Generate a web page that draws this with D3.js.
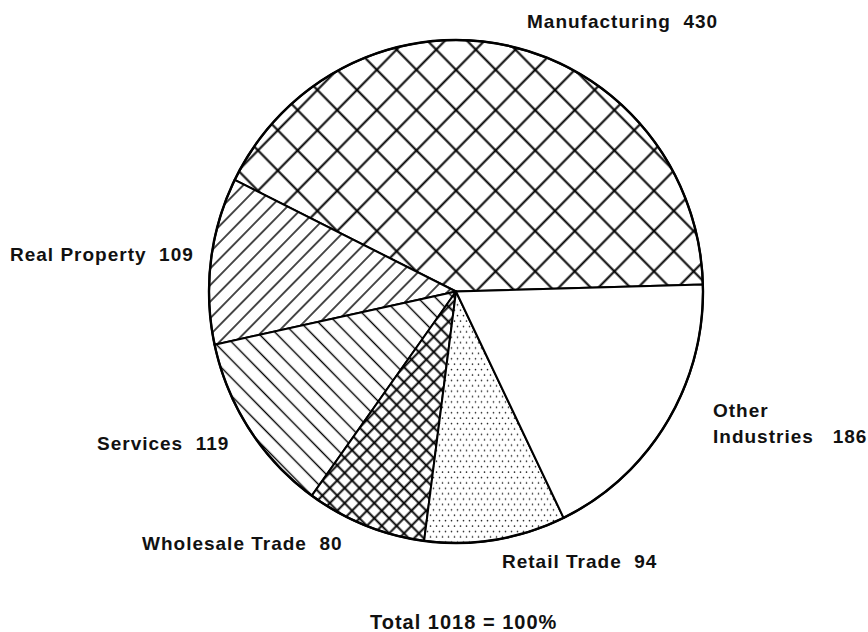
<!DOCTYPE html>
<html>
<head>
<meta charset="utf-8">
<script src="https://cdn.jsdelivr.net/npm/d3@7"></script>
<style>
  body { margin: 0; background: #fff; }
  text { font-family: "Liberation Sans", Arial, sans-serif; font-weight: bold; fill: #111; white-space: pre; }
</style>
</head>
<body>
<script>
// data

const categories = ["Manufacturing", "Real Property", "Services", "Wholesale Trade", "Retail Trade", "Other Industries"];
const values = [430, 109, 119, 80, 94, 186];
const total = 1018;
const fills = ["crossLarge", "hatchUp", "hatchDown", "crossSmall", "dots", "none"];

// layout

const width = 868;
const height = 632;
const cx = 456, cy = 291.5, radius = 247, squash = 1.018;
const startOffset = 1.6 * Math.PI / 180;

// label anchors (x start, baseline)
const labelPos = {
    "Manufacturing": [[527, 28]],
    "Real Property": [[10, 261]],
    "Services": [[97, 450]],
    "Wholesale Trade": [[142, 550]],
    "Retail Trade": [[502, 568]],
    "Other Industries": [[713, 417], [713, 443]]
};

const svg = d3.select("body")
    .append("svg")
    .attr("width", width)
    .attr("height", height);

// patterns

const defs = svg.append("defs");

function linePattern(id, s, sw, kind) {
    const p = defs.append("pattern")
        .attr("id", id)
        .attr("patternUnits", "userSpaceOnUse")
        .attr("width", s)
        .attr("height", s)
        .attr("patternTransform", `rotate(${kind === "up" ? -45 : 45})`);
    p.append("rect").attr("width", s).attr("height", s).attr("fill", "#fff");
    p.append("line")
        .attr("x1", 0).attr("x2", s)
        .attr("y1", s / 2).attr("y2", s / 2)
        .attr("stroke", "#000").attr("stroke-width", sw);
    if (kind === "cross") {
        p.append("line")
            .attr("y1", 0).attr("y2", s)
            .attr("x1", s / 2).attr("x2", s / 2)
            .attr("stroke", "#000").attr("stroke-width", sw);
    }
}

linePattern("crossLarge", 28, 2, "cross");
linePattern("crossSmall", 10.5, 1.9, "cross");
linePattern("hatchUp", 11.5, 1.4, "up");
linePattern("hatchDown", 12.5, 1.4, "down");

const dotPat = defs.append("pattern")
    .attr("id", "dots")
    .attr("patternUnits", "userSpaceOnUse")
    .attr("width", 6)
    .attr("height", 10.6);
dotPat.append("rect").attr("width", 6).attr("height", 10.6).attr("fill", "#fff");
dotPat.append("circle").attr("cx", 1.5).attr("cy", 2.6).attr("r", 0.8).attr("fill", "#222");
dotPat.append("circle").attr("cx", 4.5).attr("cy", 7.9).attr("r", 0.8).attr("fill", "#222");

// pie, drawn counter-clockwise from 3 o'clock

const slices = categories.map((c, i) => ({ category: c, value: values[i], fill: fills[i] }));

const pie = d3.pie()
    .sort(null)
    .value(d => d.value)
    .startAngle(Math.PI / 2 - startOffset)
    .endAngle(Math.PI / 2 - startOffset - 2 * Math.PI);

const arc = d3.arc()
    .innerRadius(0)
    .outerRadius(radius);

const g = svg.append("g")
    .attr("transform", `translate(${cx},${cy}) scale(1,${squash})`);

g.selectAll("path.slice")
    .data(pie(slices))
    .join("path")
        .attr("class", "slice")
        .attr("d", arc)
        .attr("fill", d => d.data.fill === "none" ? "#fff" : `url(#${d.data.fill})`)
        .attr("stroke", "#000")
        .attr("stroke-width", 2)
        .attr("stroke-linejoin", "round");

g.append("circle")
    .attr("r", radius)
    .attr("fill", "none")
    .attr("stroke", "#000")
    .attr("stroke-width", 2.4);

// labels

const labelLines = slices.flatMap(d => {
    const pos = labelPos[d.category];
    if (pos.length === 2) {
        const parts = d.category.split(" ");
        return [
            { text: parts[0], x: pos[0][0], y: pos[0][1] },
            { text: `${parts[1]}   ${d.value}`, x: pos[1][0], y: pos[1][1] }
        ];
    }
    return [{ text: `${d.category}  ${d.value}`, x: pos[0][0], y: pos[0][1] }];
});

svg.selectAll("text.label")
    .data(labelLines)
    .join("text")
        .attr("class", "label")
        .attr("x", d => d.x)
        .attr("y", d => d.y)
        .attr("font-size", 19)
        .attr("letter-spacing", 1)
        .text(d => d.text);

svg.append("text")
    .attr("x", 370)
    .attr("y", 629)
    .attr("font-size", 20)
    .attr("letter-spacing", 1)
    .text(`Total ${total} = 100%`);
</script>
</body>
</html>
